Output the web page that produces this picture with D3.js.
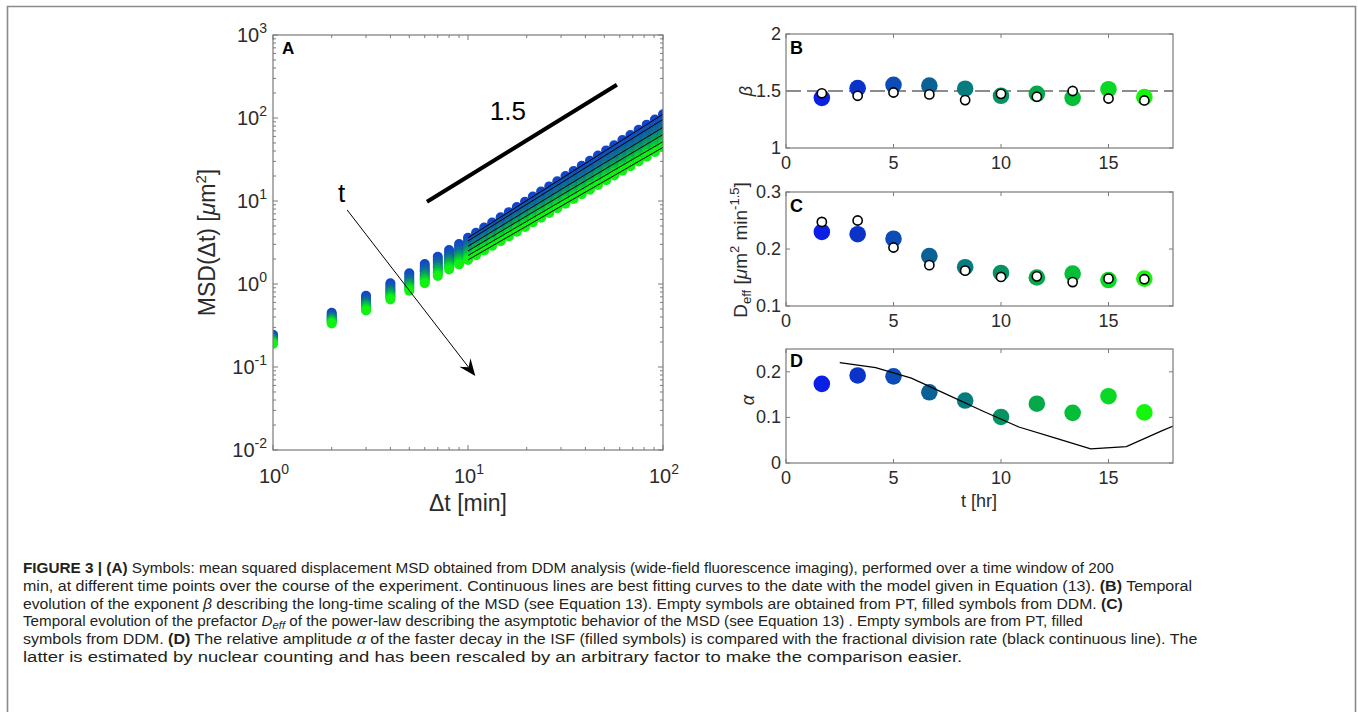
<!DOCTYPE html>
<html><head><meta charset="utf-8">
<script src="https://cdn.jsdelivr.net/npm/d3@7"></script>
<style>body{margin:0;background:#fff} svg{display:block} text{font-family:"Liberation Sans",Arial,sans-serif}</style>
</head><body><svg id="c" width="1358" height="712"></svg>
<script>
// ---------------- DATA ----------------
// Panel A: lag times (min)
const lagsEarly = [1,2,3,4,5,6,7,8,9];
const lagsLate = [10,11.0,12.1,13.3,14.7,16.2,17.8,19.6,21.5,23.7,26.1,28.7,31.6,34.8,38.3,42.2,46.4,51.1,56.2,61.9,68.1,75.0,82.5,90.9,100];
// MSD (um^2), one array per time point (early -> late)
const msd0 = [0.245,0.45,0.72,1.02,1.35,1.74,2.13,2.57,3.04, 3.60,4.15,4.79,5.52,6.37,7.34,8.47,9.77,11.3,13.0,15.0,17.3,20.0,23.0,26.5,30.6,35.3,40.7,47.0,54.2,62.5,72.1,83.2,95.9,111];
const msd1 = [0.237,0.432,0.680,0.957,1.26,1.62,1.98,2.38,2.81, 3.30,3.80,4.38,5.04,5.79,6.67,7.67,8.83,10.2,11.7,13.5,15.5,17.8,20.5,23.6,27.2,31.3,36.0,41.4,47.6,54.8,63.1,72.6,83.6,96.2];
const msd2 = [0.229,0.415,0.644,0.904,1.18,1.51,1.85,2.22,2.61, 3.05,3.50,4.03,4.63,5.32,6.12,7.03,8.08,9.29,10.7,12.3,14.1,16.2,18.6,21.4,24.6,28.3,32.5,37.4,43.0,49.4,56.8,65.3,75.1,86.3];
const msd3 = [0.222,0.402,0.617,0.859,1.12,1.42,1.74,2.09,2.45, 2.85,3.27,3.75,4.31,4.94,5.67,6.51,7.46,8.56,9.82,11.3,12.9,14.8,17.0,19.5,22.4,25.7,29.5,33.9,38.9,44.6,51.1,58.7,67.3,77.2];
const msd4 = [0.216,0.388,0.587,0.815,1.06,1.33,1.63,1.96,2.29, 2.65,3.03,3.48,3.98,4.56,5.22,5.98,6.85,7.85,8.99,10.3,11.8,13.5,15.5,17.7,20.3,23.3,26.7,30.5,35.0,40.1,45.9,52.6,60.3,69.0];
const msd5 = [0.211,0.378,0.566,0.782,1.01,1.27,1.56,1.87,2.17, 2.50,2.86,3.27,3.75,4.29,4.90,5.61,6.42,7.34,8.40,9.62,11.0,12.6,14.4,16.5,18.9,21.6,24.7,28.2,32.3,37.0,42.3,48.4,55.4,63.4];
const msd6 = [0.205,0.366,0.542,0.743,0.960,1.20,1.47,1.76,2.04, 2.35,2.68,3.07,3.50,4.00,4.57,5.22,5.97,6.81,7.78,8.89,10.2,11.6,13.3,15.1,17.3,19.8,22.6,25.8,29.5,33.7,38.5,43.9,50.2,57.3];
const msd7 = [0.200,0.356,0.520,0.711,0.915,1.14,1.39,1.67,1.93, 2.20,2.51,2.86,3.26,3.72,4.25,4.84,5.53,6.30,7.19,8.20,9.36,10.7,12.2,13.9,15.8,18.1,20.6,23.5,26.8,30.6,34.9,39.8,45.5,51.9];
const msd8 = [0.195,0.346,0.501,0.683,0.875,1.08,1.32,1.59,1.83, 2.08,2.37,2.70,3.08,3.51,4.00,4.56,5.19,5.92,6.75,7.69,8.77,10.0,11.4,13.0,14.8,16.9,19.2,21.9,25.0,28.4,32.4,37.0,42.1,48.0];
const msd9 = [0.190,0.335,0.480,0.650,0.830,1.02,1.25,1.50,1.72, 1.95,2.22,2.53,2.88,3.28,3.74,4.26,4.85,5.52,6.29,7.16,8.16,9.29,10.6,12.1,13.7,15.6,17.8,20.3,23.1,26.3,30.0,34.1,38.9,44.3];
// visible best-fit lines (lag 10 -> 100)
const fitLags = [10,100];
const fitAt10 = [3.6,3.3,2.85,2.5,2.2,1.95];
const fitAt100 = [111,96.2,77.2,63.4,51.9,44.3];
// slope guide "1.5"
const slopeLag = [6.16,58];
const slopeMsd = [9.8,251];
// Panels B-D: time points (hr)
const hours = [1.667,3.333,5,6.667,8.333,10,11.667,13.333,15,16.667];
const betaDDM = [1.44,1.525,1.554,1.548,1.52,1.458,1.475,1.44,1.516,1.446];
const betaPT  = [1.48,1.458,1.487,1.47,1.42,1.475,1.45,1.50,1.434,1.417];
const deffDDM = [0.230,0.226,0.218,0.1875,0.168,0.158,0.150,0.157,0.1455,0.148];
const deffPT  = [0.2475,0.250,0.2026,0.1717,0.162,0.151,0.152,0.142,0.148,0.147];
const alphaDDM = [0.1736,0.192,0.190,0.155,0.137,0.101,0.130,0.110,0.1465,0.111];
const divT    = [2.5,4.17,5.83,7.5,9.17,10.83,12.5,14.17,15.83,17.5,19.17];
const divRate = [0.220,0.209,0.186,0.150,0.1135,0.079,0.055,0.031,0.036,0.071,0.104];
// tick values
const logXTicks = [1,10,100];
const logYTicks = [0.01,0.1,1,10,100,1000];
const hrTicks = [0,5,10,15];
const betaTicks = [1,1.5,2];
const deffTicks = [0.1,0.2,0.3];
const alphaTicks = [0,0.1,0.2];

// ---------------- STYLE ----------------
const msdSeries = [msd0,msd1,msd2,msd3,msd4,msd5,msd6,msd7,msd8,msd9];
const palette = ["#0b20e6","#0a34c8","#0b4cb6","#0a6196","#077c7e","#079266","#06a84a","#05be38","#0ad824","#16f50c"];
const paletteA = ["#1246c8","#1150bc","#105caa","#0e6a98","#0c7e84","#0a946c","#08ac52","#07c43c","#06de28","#10f212"];
const AX = "#7a7a7a", TXT = "#2b2b2b";
const svg = d3.select("#c");

// outer frame
svg.append("path").attr("d","M7.5,712 V6.5 H1355.5 V712").attr("fill","none").attr("stroke","#8a8a8a").attr("stroke-width",1.6);

// ---------------- PANEL A ----------------
const xA = d3.scaleLog().domain([1,100]).range([273,663]);
const yA = d3.scaleLog().domain([0.01,1000]).range([450,35]);
const gA = svg.append("g");
svg.append("clipPath").attr("id","clipA").append("rect")
  .attr("x",xA(1)).attr("y",yA(1000)).attr("width",xA(100)-xA(1)).attr("height",yA(0.01)-yA(1000));

function logMinor(dom){ const out=[]; for(let d=dom[0]; d<dom[1]; d*=10){ for(let m=2;m<=9;m++) out.push(d*m);} return out; }
const [ax0,ax1] = xA.range(), [ay0,ay1] = yA.range();
logXTicks.forEach(v=>{ [[ay0,-5],[ay1,5]].forEach(([yy,s])=>gA.append("line").attr("x1",xA(v)).attr("x2",xA(v)).attr("y1",yy).attr("y2",yy+s).attr("stroke",AX)); });
logMinor(xA.domain()).forEach(v=>{ [[ay0,-3],[ay1,3]].forEach(([yy,s])=>gA.append("line").attr("x1",xA(v)).attr("x2",xA(v)).attr("y1",yy).attr("y2",yy+s).attr("stroke",AX)); });
logYTicks.forEach(v=>{ [[ax0,5],[ax1,-5]].forEach(([xx,s])=>gA.append("line").attr("y1",yA(v)).attr("y2",yA(v)).attr("x1",xx).attr("x2",xx+s).attr("stroke",AX)); });
logMinor(yA.domain()).forEach(v=>{ [[ax0,3],[ax1,-3]].forEach(([xx,s])=>gA.append("line").attr("y1",yA(v)).attr("y2",yA(v)).attr("x1",xx).attr("x2",xx+s).attr("stroke",AX)); });

function pow10Label(x,y,v,anchor){
  const t = svg.append("text").attr("x",x).attr("y",y).attr("text-anchor",anchor).attr("font-size",20).attr("fill",TXT);
  t.append("tspan").text("10");
  t.append("tspan").attr("dy",-9).attr("font-size",14).text(String(Math.round(Math.log10(v))));
}
logXTicks.forEach(v=>pow10Label(xA(v)+1,483,v,"middle"));
logYTicks.forEach(v=>pow10Label(267,yA(v)+7,v,"end"));

// dots
const lagsAll = lagsEarly.concat(lagsLate);
const dotsA = gA.append("g").attr("clip-path","url(#clipA)");
msdSeries.forEach((s,i)=>{
  dotsA.selectAll(null).data(s).enter().append("circle")
    .attr("cx",(d,j)=>xA(lagsAll[j])).attr("cy",d=>yA(d)).attr("r",5).attr("fill",paletteA[i]);
});
// fit lines
const lineA = d3.line().x(d=>xA(d[0])).y(d=>yA(d[1]));
fitAt10.forEach((v,i)=>{
  gA.append("path").attr("d",lineA([[fitLags[0],v],[fitLags[1],fitAt100[i]]])).attr("stroke","#000").attr("stroke-width",1).attr("fill","none").attr("clip-path","url(#clipA)");
});
// slope guide
gA.append("path").attr("d",lineA([[slopeLag[0],slopeMsd[0]],[slopeLag[1],slopeMsd[1]]])).attr("stroke","#000").attr("stroke-width",4).attr("fill","none");
svg.append("text").attr("x",xA(16)).attr("y",yA(94.6)).attr("text-anchor","middle").attr("font-size",26).attr("fill","#000").text("1.5");
// arrow "t"
{
  const p0=[xA(2.4),yA(7.8)], p1=[xA(10.9),yA(0.078)];
  const ang=Math.atan2(p1[1]-p0[1],p1[0]-p0[0]);
  const ux=Math.cos(ang), uy=Math.sin(ang), nx=-uy, ny=ux;
  const L=17, W=7, N=6;
  const bl=[p1[0]-L*ux+W*nx, p1[1]-L*uy+W*ny], br=[p1[0]-L*ux-W*nx, p1[1]-L*uy-W*ny], nt=[p1[0]-(L-N)*ux, p1[1]-(L-N)*uy];
  gA.append("line").attr("x1",p0[0]).attr("y1",p0[1]).attr("x2",nt[0]).attr("y2",nt[1]).attr("stroke","#000").attr("stroke-width",1);
  gA.append("path").attr("d",`M${p1[0]},${p1[1]}L${bl[0]},${bl[1]}L${nt[0]},${nt[1]}L${br[0]},${br[1]}Z`).attr("fill","#000");
  svg.append("text").attr("x",xA(2.25)).attr("y",yA(9.77)).attr("text-anchor","middle").attr("font-size",26).attr("fill","#000").text("t");
}
// box
gA.append("rect").attr("x",ax0).attr("y",ay1).attr("width",ax1-ax0).attr("height",ay0-ay1).attr("fill","none").attr("stroke",AX).attr("stroke-width",1.2);
svg.append("text").attr("x",282).attr("y",54).attr("font-size",17).attr("font-weight","bold").attr("fill","#000").text("A");
// axis labels
{
  const t = svg.append("text").attr("transform",`translate(215,${(ay0+ay1)/2}) rotate(-90)`).attr("text-anchor","middle").attr("font-size",23).attr("fill",TXT);
  t.append("tspan").text("MSD(Δt) [");
  t.append("tspan").attr("font-style","italic").text("μ");
  t.append("tspan").text("m");
  t.append("tspan").attr("dy",-9).attr("font-size",15).text("2");
  t.append("tspan").attr("dy",9).text("]");
  svg.append("text").attr("x",(ax0+ax1)/2).attr("y",511).attr("text-anchor","middle").attr("font-size",23).attr("fill",TXT).text("Δt [min]");
}

// ---------------- PANELS B-D ----------------
const xH = d3.scaleLinear().domain([0,18]).range([786,1173]);
function panel(id, yDom, yRng, yTicks, fmt){
  const y = d3.scaleLinear().domain(yDom).range(yRng);
  const g = svg.append("g");
  svg.append("clipPath").attr("id",id).append("rect").attr("x",xH(0)).attr("y",yRng[1]).attr("width",xH(18)-xH(0)).attr("height",yRng[0]-yRng[1]);
  hrTicks.forEach(v=>{
    g.append("line").attr("x1",xH(v)).attr("x2",xH(v)).attr("y1",yRng[0]).attr("y2",yRng[0]-4).attr("stroke",AX);
    g.append("line").attr("x1",xH(v)).attr("x2",xH(v)).attr("y1",yRng[1]).attr("y2",yRng[1]+4).attr("stroke",AX);
    svg.append("text").attr("x",xH(v)).attr("y",yRng[0]+21).attr("text-anchor","middle").attr("font-size",18).attr("fill",TXT).text(v);
  });
  yTicks.forEach(v=>{
    g.append("line").attr("x1",xH(0)).attr("x2",xH(0)+4).attr("y1",y(v)).attr("y2",y(v)).attr("stroke",AX);
    g.append("line").attr("x1",xH(18)).attr("x2",xH(18)-4).attr("y1",y(v)).attr("y2",y(v)).attr("stroke",AX);
    svg.append("text").attr("x",xH(0)-5).attr("y",y(v)+6).attr("text-anchor","end").attr("font-size",18).attr("fill",TXT).text(fmt(v));
  });
  return {g,y};
}
function box(g,yRng){ g.append("rect").attr("x",xH(0)).attr("y",yRng[1]).attr("width",xH(18)-xH(0)).attr("height",yRng[0]-yRng[1]).attr("fill","none").attr("stroke",AX).attr("stroke-width",1.2); }
function filled(g,y,vals){ g.selectAll(null).data(vals).enter().append("circle").attr("cx",(d,i)=>xH(hours[i])).attr("cy",d=>y(d)).attr("r",8.3).attr("fill",(d,i)=>palette[i]); }
function empty(g,y,vals){ g.selectAll(null).data(vals).enter().append("circle").attr("cx",(d,i)=>xH(hours[i])).attr("cy",d=>y(d)).attr("r",4.6).attr("fill","#fff").attr("stroke","#000").attr("stroke-width",1.6); }
function plabel(t,yb){ svg.append("text").attr("x",790).attr("y",yb).attr("font-size",18).attr("font-weight","bold").attr("fill","#000").text(t); }

// B
{
  const rng=[148,34];
  const {g,y} = panel("clipB",[1,2],rng,betaTicks,v=>String(v));
  g.append("line").attr("x1",xH(0)).attr("x2",xH(18)).attr("y1",y(1.5)).attr("y2",y(1.5)).attr("stroke","#8c8c8c").attr("stroke-width",2).attr("stroke-dasharray","15,6");
  filled(g,y,betaDDM); empty(g,y,betaPT); box(g,rng); plabel("B",54);
  svg.append("text").attr("transform",`translate(752,${y(1.5)}) rotate(-90)`).attr("text-anchor","middle").attr("font-size",18).attr("font-style","italic").attr("font-family","'Liberation Serif',serif").attr("fill",TXT).text("β");
}
// C
{
  const rng=[306,192];
  const {g,y} = panel("clipC",[0.1,0.3],rng,deffTicks,v=>v.toFixed(1));
  filled(g,y,deffDDM); empty(g,y,deffPT); box(g,rng); plabel("C",212);
  const t = svg.append("text").attr("transform",`translate(747,250) rotate(-90)`).attr("text-anchor","middle").attr("font-size",19).attr("fill",TXT);
  t.append("tspan").text("D");
  t.append("tspan").attr("dy",4).attr("font-size",13).text("eff");
  t.append("tspan").attr("dy",-4).text(" [");
  t.append("tspan").attr("font-style","italic").text("μ");
  t.append("tspan").text("m");
  t.append("tspan").attr("dy",-8).attr("font-size",13).text("2");
  t.append("tspan").attr("dy",8).text(" min");
  t.append("tspan").attr("dy",-8).attr("font-size",13).text("-1.5");
  t.append("tspan").attr("dy",8).text("]");
}
// D
{
  const rng=[463,349];
  const {g,y} = panel("clipD",[0,0.25],rng,alphaTicks,v=>v===0?"0":v.toFixed(1));
  filled(g,y,alphaDDM);
  const ln = d3.line().x((d,i)=>xH(divT[i])).y(d=>y(d));
  g.append("path").attr("d",ln(divRate)).attr("fill","none").attr("stroke","#000").attr("stroke-width",1.2).attr("clip-path","url(#clipD)");
  box(g,rng); plabel("D",367);
  svg.append("text").attr("transform",`translate(754,400) rotate(-90)`).attr("text-anchor","middle").attr("font-size",18).attr("font-style","italic").attr("font-family","'Liberation Serif',serif").attr("fill",TXT).text("α");
  svg.append("text").attr("x",979).attr("y",507).attr("text-anchor","middle").attr("font-size",18).attr("fill",TXT).text("t [hr]");
}

// ---------------- CAPTION ----------------
const caption = [
  {y:573, len:1092, segs:[{t:"FIGURE 3 | (A)",b:1},{t:" Symbols: mean squared displacement MSD obtained from DDM analysis (wide-field fluorescence imaging), performed over a time window of 200"}]},
  {y:591, len:1170, segs:[{t:"min, at different time points over the course of the experiment. Continuous lines are best fitting curves to the date with the model given in Equation (13). "},{t:"(B)",b:1},{t:" Temporal"}]},
  {y:608.6, len:1100, segs:[{t:"evolution of the exponent "},{t:"β",i:1},{t:" describing the long-time scaling of the MSD (see Equation 13). Empty symbols are obtained from PT, filled symbols from DDM. "},{t:"(C)",b:1}]},
  {y:626.4, len:1060, segs:[{t:"Temporal evolution of the prefactor "},{t:"D",i:1},{t:"eff",i:1,sub:1},{t:" of the power-law describing the asymptotic behavior of the MSD (see Equation 13) . Empty symbols are from PT, filled",un:1}]},
  {y:644.2, len:1175, segs:[{t:"symbols from DDM. "},{t:"(D)",b:1},{t:" The relative amplitude "},{t:"α",i:1},{t:" of the faster decay in the ISF (filled symbols) is compared with the fractional division rate (black continuous line). The"}]},
  {y:662, len:940, segs:[{t:"latter is estimated by nuclear counting and has been rescaled by an arbitrary factor to make the comparison easier."}]}
];
caption.forEach(l=>{
  const g = svg.append("g");
  const t = g.append("text").attr("x",0).attr("y",0).attr("font-size",15).attr("fill","#231f20");
  l.segs.forEach(s=>{
    const ts = t.append("tspan").text(s.t);
    if(s.b) ts.attr("font-weight","bold");
    if(s.i) ts.attr("font-style","italic");
    if(s.sub) ts.attr("dy",3).attr("font-size",11);
    if(s.un) ts.attr("dy",-3);
  });
  const w = t.node().getComputedTextLength();
  const sx = w>0 ? l.len/w : 1;
  g.attr("transform",`translate(23,${l.y}) scale(${sx},1)`);
});
</script></body></html>
